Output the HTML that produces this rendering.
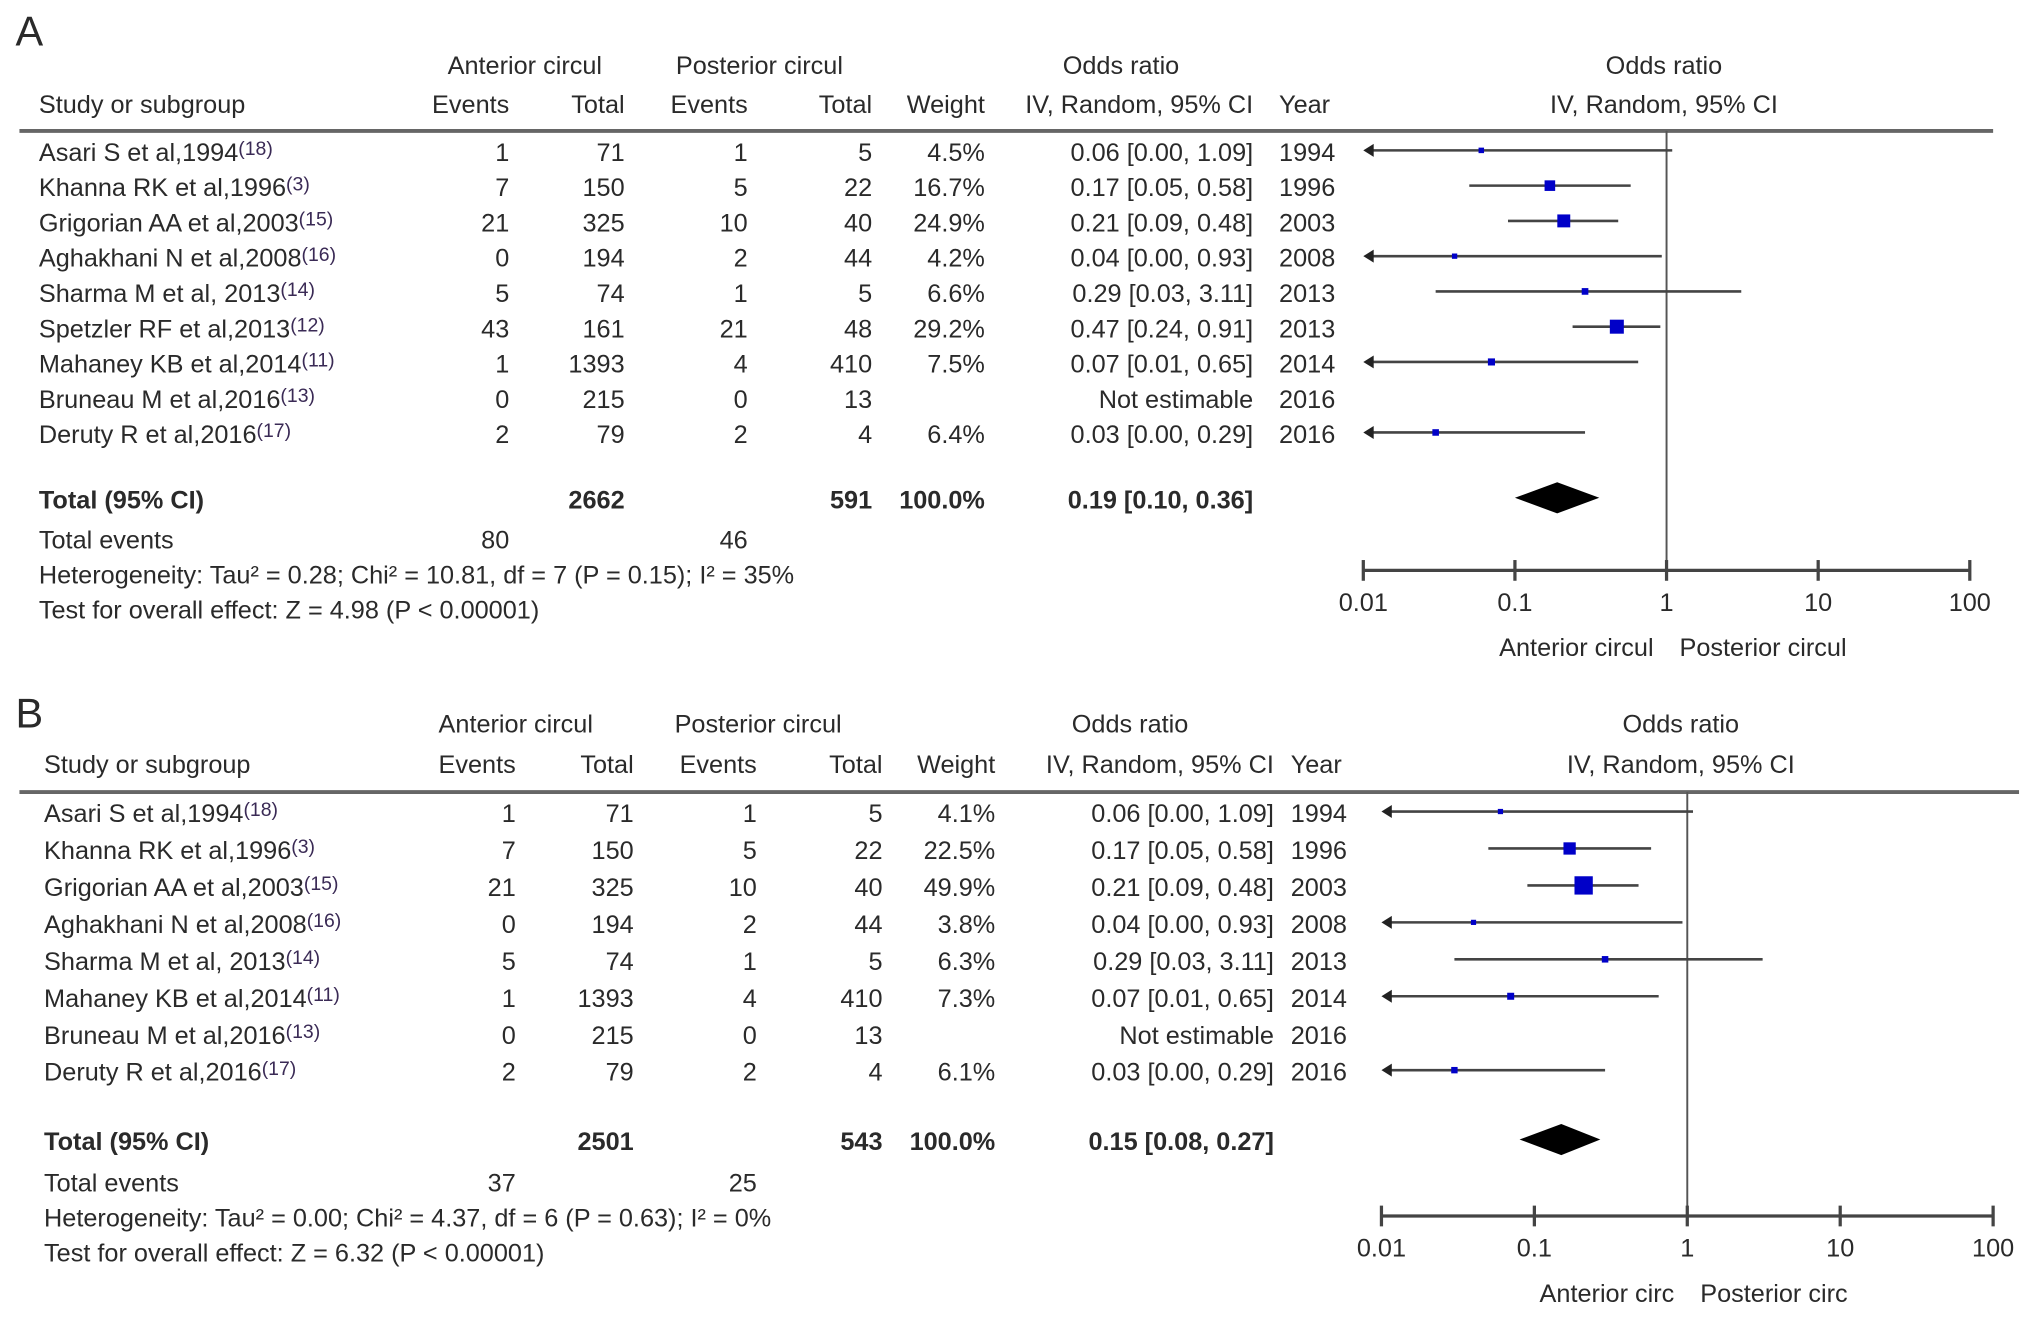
<!DOCTYPE html>
<html><head><meta charset="utf-8"><style>
html,body{margin:0;padding:0;background:#fff;}
svg{display:block;font-family:"Liberation Sans",Arial,sans-serif;}
</style></head><body>
<svg id="fig" width="2032" height="1321" viewBox="0 0 1568 1019" preserveAspectRatio="none" xmlns="http://www.w3.org/2000/svg"></svg>
<script>
// ---- Panel A data ----
const studiesA = ["Asari S et al,1994","Khanna RK et al,1996","Grigorian AA et al,2003","Aghakhani N et al,2008","Sharma M et al, 2013","Spetzler RF et al,2013","Mahaney KB et al,2014","Bruneau M et al,2016","Deruty R et al,2016"];
const refsA = ["(18)","(3)","(15)","(16)","(14)","(12)","(11)","(13)","(17)"];
const evAntA = [1,7,21,0,5,43,1,0,2];
const totAntA = [71,150,325,194,74,161,1393,215,79];
const evPostA = [1,5,10,2,1,21,4,0,2];
const totPostA = [5,22,40,44,5,48,410,13,4];
const weightA = [4.5,16.7,24.9,4.2,6.6,29.2,7.5,null,6.4];
const orA = [0.06,0.17,0.21,0.04,0.29,0.47,0.07,null,0.03];
const loA = [0.00,0.05,0.09,0.00,0.03,0.24,0.01,null,0.00];
const hiA = [1.09,0.58,0.48,0.93,3.11,0.91,0.65,null,0.29];
const yearA = [1994,1996,2003,2008,2013,2013,2014,2016,2016];
const totalA = {ant:2662, post:591, or:0.19, lo:0.10, hi:0.36, evAnt:80, evPost:46};
const hetA = "Heterogeneity: Tau\u00b2 = 0.28; Chi\u00b2 = 10.81, df = 7 (P = 0.15); I\u00b2 = 35%";
const testA = "Test for overall effect: Z = 4.98 (P < 0.00001)";
// ---- Panel B data ----
const studiesB = ["Asari S et al,1994","Khanna RK et al,1996","Grigorian AA et al,2003","Aghakhani N et al,2008","Sharma M et al, 2013","Mahaney KB et al,2014","Bruneau M et al,2016","Deruty R et al,2016"];
const refsB = ["(18)","(3)","(15)","(16)","(14)","(11)","(13)","(17)"];
const evAntB = [1,7,21,0,5,1,0,2];
const totAntB = [71,150,325,194,74,1393,215,79];
const evPostB = [1,5,10,2,1,4,0,2];
const totPostB = [5,22,40,44,5,410,13,4];
const weightB = [4.1,22.5,49.9,3.8,6.3,7.3,null,6.1];
const orB = [0.06,0.17,0.21,0.04,0.29,0.07,null,0.03];
const loB = [0.00,0.05,0.09,0.00,0.03,0.01,null,0.00];
const hiB = [1.09,0.58,0.48,0.93,3.11,0.65,null,0.29];
const yearB = [1994,1996,2003,2008,2013,2014,2016,2016];
const totalB = {ant:2501, post:543, or:0.15, lo:0.08, hi:0.27, evAnt:37, evPost:25};
const hetB = "Heterogeneity: Tau\u00b2 = 0.00; Chi\u00b2 = 4.37, df = 6 (P = 0.63); I\u00b2 = 0%";
const testB = "Test for overall effect: Z = 6.32 (P < 0.00001)";
const axisTicks = [0.01,0.1,1,10,100];
const axisTickLabels = ["0.01","0.1","1","10","100"];

const NS="http://www.w3.org/2000/svg";
const svg=document.getElementById('fig');
function el(tag,attrs,parent){const e=document.createElementNS(NS,tag);for(const k in attrs)e.setAttribute(k,attrs[k]);(parent||svg).appendChild(e);return e;}
function txt(s,x,y,opt,parent){opt=opt||{};const t=el('text',{x:x,y:y,'font-size':opt.fs||19.5,'text-anchor':opt.anchor||'start','dominant-baseline':'central',fill:opt.fill||'#2a2a2a','font-weight':opt.bold?'bold':'normal'},parent);t.textContent=s;return t;}

function panel(P){
  const g=el('g',{});
  
  
  const L=P.L;
  const lbl=txt(P.letter,12,P.top,{fs:32},g);
  
  txt("Anterior circul",L.antC,L.h1,{anchor:'middle'},g);
  txt("Posterior circul",L.postC,L.h1,{anchor:'middle'},g);
  txt("Odds ratio",L.orC,L.h1,{anchor:'middle'},g);
  txt("Odds ratio",L.plotC,L.h1,{anchor:'middle'},g);
  txt("Study or subgroup",L.studyX,L.h2,{},g);
  txt("Events",L.c1,L.h2,{anchor:'end'},g);
  txt("Total",L.c2,L.h2,{anchor:'end'},g);
  txt("Events",L.c3,L.h2,{anchor:'end'},g);
  txt("Total",L.c4,L.h2,{anchor:'end'},g);
  txt("Weight",L.c5,L.h2,{anchor:'end'},g);
  txt("IV, Random, 95% CI",L.c6,L.h2,{anchor:'end'},g);
  txt("Year",L.yearX,L.h2,{},g);
  txt("IV, Random, 95% CI",L.plotC,L.h2,{anchor:'middle'},g);
  el('line',{x1:15,x2:L.hlineEnd,y1:L.hline,y2:L.hline,stroke:'#666','stroke-width':3},g);
  const xs=v=>L.x0+(Math.log10(v)+2)*L.dec;
  el('line',{x1:xs(1),x2:xs(1),y1:L.hline,y2:L.axisY,stroke:'#555','stroke-width':1.5},g);
  const D=P.d;
  for(let i=0;i<D.studies.length;i++){
    const y=L.r0+i*L.step;
    const row=el('g',{},g);
    
    
    const t=txt(D.studies[i],L.studyX,y,{},row);
    const r=el('tspan',{'font-size':15,dy:-3,fill:'#3a2a55'},t);r.textContent=D.refs[i];
    txt(String(D.evAnt[i]),L.c1,y,{anchor:'end'},row);
    txt(String(D.totAnt[i]),L.c2,y,{anchor:'end'},row);
    txt(String(D.evPost[i]),L.c3,y,{anchor:'end'},row);
    txt(String(D.totPost[i]),L.c4,y,{anchor:'end'},row);
    if(D.weight[i]!=null) txt(D.weight[i].toFixed(1)+"%",L.c5,y,{anchor:'end'},row);
    if(D.or[i]!=null) txt(D.or[i].toFixed(2)+" ["+D.lo[i].toFixed(2)+", "+D.hi[i].toFixed(2)+"]",L.c6,y,{anchor:'end'},row);
    else txt("Not estimable",L.c6,y,{anchor:'end'},row);
    txt(String(D.year[i]),L.yearX,y,{},row);
    if(D.or[i]!=null){
      const cy=y-2;
      const clip=D.lo[i]<=0.01;
      const x1=clip?xs(0.01)+2:xs(D.lo[i]);
      const ci=el('line',{x1:x1,x2:xs(D.hi[i]),y1:cy,y2:cy,stroke:'#444','stroke-width':2},row);
      
      if(clip){const a=el('polygon',{points:(xs(0.01))+","+cy+" "+(xs(0.01)+8)+","+(cy-5)+" "+(xs(0.01)+8)+","+(cy+5),fill:'#222'},row);
        }
      const s=Math.max(4,Math.sqrt(D.weight[i])*2);
      const sq=el('rect',{x:xs(D.or[i])-s/2,y:cy-s/2,width:s,height:s,fill:'#0000c8'},row);
      
    }
  }
  const T=D.total;
  txt("Total (95% CI)",L.studyX,L.totY,{bold:true},g);
  txt(String(T.ant),L.c2,L.totY,{anchor:'end',bold:true},g);
  txt(String(T.post),L.c4,L.totY,{anchor:'end',bold:true},g);
  txt("100.0%",L.c5,L.totY,{anchor:'end',bold:true},g);
  txt(T.or.toFixed(2)+" ["+T.lo.toFixed(2)+", "+T.hi.toFixed(2)+"]",L.c6,L.totY,{anchor:'end',bold:true},g);
  const dy=L.totY-2;
  const dm=el('polygon',{points:xs(T.lo)+","+dy+" "+xs(T.or)+","+(dy-12)+" "+xs(T.hi)+","+dy+" "+xs(T.or)+","+(dy+12),fill:'#000'},g);
  
  txt("Total events",L.studyX,L.evY,{},g);
  txt(String(T.evAnt),L.c1,L.evY,{anchor:'end'},g);
  txt(String(T.evPost),L.c3,L.evY,{anchor:'end'},g);
  txt(D.het,L.studyX,L.evY+27,{},g);
  txt(D.test,L.studyX,L.evY+54,{},g);
  const ax=el('g',{},g);
  
  el('line',{x1:xs(0.01),x2:xs(100),y1:L.axisY,y2:L.axisY,stroke:'#444','stroke-width':2.5},ax);
  axisTicks.forEach((v,k)=>{
    el('line',{x1:xs(v),x2:xs(v),y1:L.axisY-8,y2:L.axisY+8,stroke:'#444','stroke-width':2.5},ax);
    txt(axisTickLabels[k],xs(v),L.axisY+25,{anchor:'middle'},ax);
  });
  txt(P.favL,xs(1)-10,L.axisY+60,{anchor:'end'},g);
  txt(P.favR,xs(1)+10,L.axisY+60,{},g);
}

panel({name:'panel-a',letter:'A',top:24,favL:'Anterior circul',favR:'Posterior circul',
  L:{antC:405,postC:586,orC:865,plotC:1284,h1:51,h2:81,studyX:30,c1:393,c2:482,c3:577,c4:673,c5:760,c6:967,yearX:987,
     hline:101,hlineEnd:1538,x0:1052,dec:117,r0:118,step:27.2,totY:386,evY:417,axisY:440},
  d:{studies:studiesA,refs:refsA,evAnt:evAntA,totAnt:totAntA,evPost:evPostA,totPost:totPostA,weight:weightA,or:orA,lo:loA,hi:hiA,year:yearA,total:totalA,het:hetA,test:testA}});
panel({name:'panel-b',letter:'B',top:550,favL:'Anterior circ',favR:'Posterior circ',
  L:{antC:398,postC:585,orC:872,plotC:1297,h1:559,h2:590,studyX:34,c1:398,c2:489,c3:584,c4:681,c5:768,c6:983,yearX:996,
     hline:611,hlineEnd:1558,x0:1066,dec:118,r0:628,step:28.5,totY:881,evY:913,axisY:938},
  d:{studies:studiesB,refs:refsB,evAnt:evAntB,totAnt:totAntB,evPost:evPostB,totPost:totPostB,weight:weightB,or:orB,lo:loB,hi:hiB,year:yearB,total:totalB,het:hetB,test:testB}});
</script>
</body></html>
